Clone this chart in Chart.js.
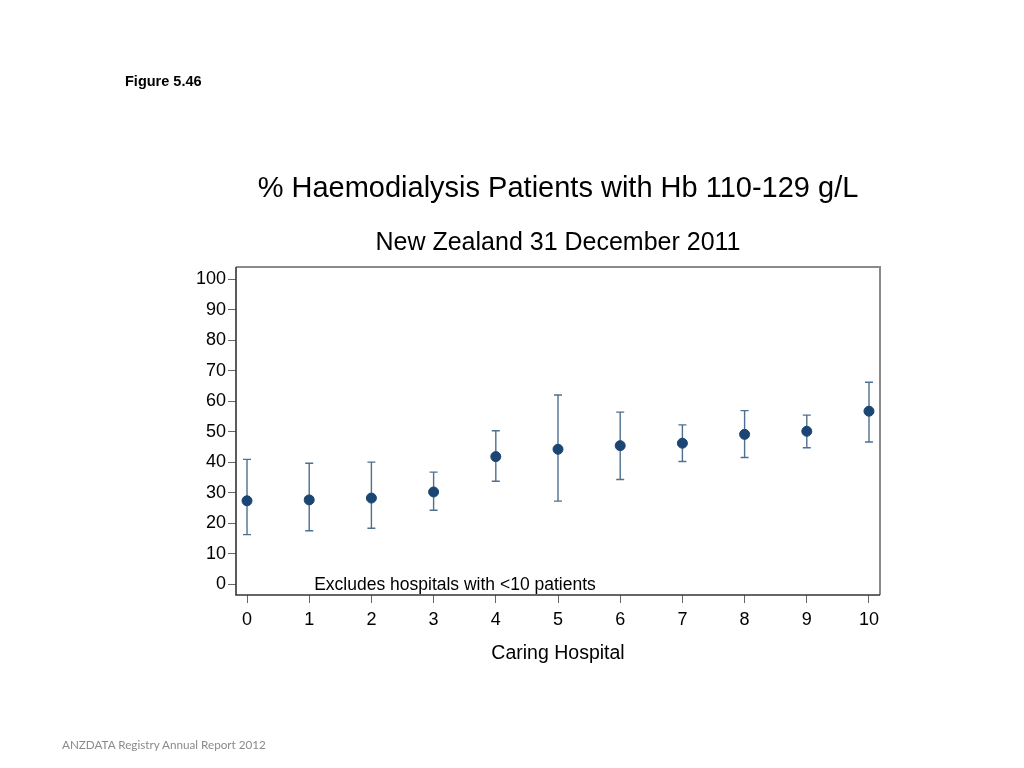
<!DOCTYPE html>
<html>
<head>
<meta charset="utf-8">
<title>Figure 5.46</title>
<script src="https://cdn.jsdelivr.net/npm/chart.js@4.4.1/dist/chart.umd.min.js"></script>
<style>
  html, body { margin: 0; padding: 0; background: #fff; overflow: hidden; }
  #wrap { position: relative; width: 1024px; height: 768px; }
  #fig { position: absolute; left: 125px; top: 73px; font: bold 14.5px 'Liberation Sans', Arial, sans-serif; color: #000; }
  #foot { position: absolute; left: 62px; top: 737px; font: 11.7px Lato, 'Open Sans', sans-serif; color: #8a8a8a; }
</style>
</head>
<body>
<div id="wrap">
  <canvas id="hbChart"></canvas>
  <div id="fig">Figure 5.46</div>
  <div id="foot">ANZDATA Registry Annual Report 2012</div>
</div>
<script>
// Caring hospital index and % of patients with Hb 110-129 g/L
const hospitals = [0, 1, 2, 3, 4, 5, 6, 7, 8, 9, 10];
const pctValues = [27.3, 27.6, 28.2, 30.2, 41.8, 44.2, 45.4, 46.2, 49.1, 50.1, 56.7];
const lowerCI   = [16.2, 17.5, 18.3, 24.2, 33.7, 27.2, 34.3, 40.2, 41.5, 44.7, 46.6];
const upperCI   = [40.9, 39.6, 40.0, 36.7, 50.3, 62.0, 56.4, 52.2, 56.9, 55.4, 66.2];
const yTicks    = [0, 10, 20, 30, 40, 50, 60, 70, 80, 90, 100];
const xTicks    = [0, 1, 2, 3, 4, 5, 6, 7, 8, 9, 10];

const FONT = "'Liberation Sans', Arial, Helvetica, sans-serif";

// error bars drawn with the chart's own scales, behind the dots
const errorBars = {
  id: 'errorBars',
  beforeDatasetsDraw(chart) {
    const c = chart.ctx, x = chart.scales.x, y = chart.scales.y;
    c.save();
    c.strokeStyle = '#4f6f8f';
    c.lineWidth = 1.4;
    hospitals.forEach(function(h, i) {
      const px = x.getPixelForValue(h);
      const lo = y.getPixelForValue(lowerCI[i]);
      const hi = y.getPixelForValue(upperCI[i]);
      c.beginPath();
      c.moveTo(px, lo); c.lineTo(px, hi);
      c.moveTo(px - 4, lo); c.lineTo(px + 4, lo);
      c.moveTo(px - 4, hi); c.lineTo(px + 4, hi);
      c.stroke();
    });
    c.restore();
  }
};

// plot frame + note
const frame = {
  id: 'frame',
  afterDraw(chart) {
    const c = chart.ctx, a = chart.chartArea;
    c.save();
    c.lineWidth = 2;
    c.strokeStyle = '#8a8a8a';
    c.beginPath();
    c.moveTo(a.left, a.top); c.lineTo(a.right, a.top); c.lineTo(a.right, a.bottom);
    c.stroke();
    c.strokeStyle = '#333';
    c.lineWidth = 1.6;
    c.beginPath();
    c.moveTo(a.left, a.top); c.lineTo(a.left, a.bottom); c.lineTo(a.right, a.bottom);
    c.stroke();
    c.fillStyle = '#000';
    c.font = '17.5px ' + FONT;
    c.textAlign = 'left';
    c.textBaseline = 'middle';
    c.fillText('Excludes hospitals with <10 patients', chart.scales.x.getPixelForValue(1.08), chart.scales.y.getPixelForValue(0) + 1);
    c.restore();
  }
};

const ctx = document.getElementById('hbChart').getContext('2d');
new Chart(ctx, {
  type: 'scatter',
  data: {
    datasets: [{
      data: hospitals.map(function(h, i) { return { x: h, y: pctValues[i] }; }),
      backgroundColor: '#1b4572',
      borderColor: '#1b4572',
      pointRadius: 5,
      pointHoverRadius: 5
    }]
  },
  plugins: [errorBars, frame],
  options: {
    responsive: true,
    maintainAspectRatio: false,
    animation: false,
    layout: { padding: { left: 176, right: 144, top: 150, bottom: 93 } },
    plugins: {
      legend: { display: false },
      tooltip: { enabled: false },
      title: {
        display: true,
        fullSize: false,
        text: '% Haemodialysis Patients with Hb 110-129 g/L',
        color: '#000',
        font: { family: FONT, size: 29, weight: 'normal', lineHeight: 1.2 },
        padding: { top: 21.6, bottom: 0 }
      },
      subtitle: {
        display: true,
        fullSize: false,
        text: 'New Zealand 31 December 2011',
        color: '#000',
        font: { family: FONT, size: 25, weight: 'normal', lineHeight: 1.2 },
        padding: { top: 21.6, bottom: 9 }
      }
    },
    scales: {
      x: {
        type: 'linear',
        min: -0.177,
        max: 10.177,
        afterBuildTicks(s) { s.ticks = xTicks.map(function(v) { return { value: v }; }); },
        afterFit(s) { s.height = 80; s.paddingLeft = 0; s.paddingRight = 0; },
        border: { display: false },
        grid: { drawOnChartArea: false, drawTicks: true, tickLength: 8, color: '#666', lineWidth: 1 },
        ticks: { color: '#000', padding: 6, font: { family: FONT, size: 18 } },
        title: {
          display: true,
          text: 'Caring Hospital',
          color: '#000',
          font: { family: FONT, size: 19.5, lineHeight: 1.2 },
          padding: { top: 0, bottom: 10 }
        }
      },
      y: {
        min: -3.6,
        max: 104,
        afterBuildTicks(s) { s.ticks = yTicks.map(function(v) { return { value: v }; }); },
        afterFit(s) { s.width = 60; s.paddingTop = 0; s.paddingBottom = 0; },
        border: { display: false },
        grid: { drawOnChartArea: false, drawTicks: true, tickLength: 8, color: '#666', lineWidth: 1 },
        ticks: { color: '#000', padding: 2, font: { family: FONT, size: 18 } }
      }
    }
  }
});
</script>
</body>
</html>
